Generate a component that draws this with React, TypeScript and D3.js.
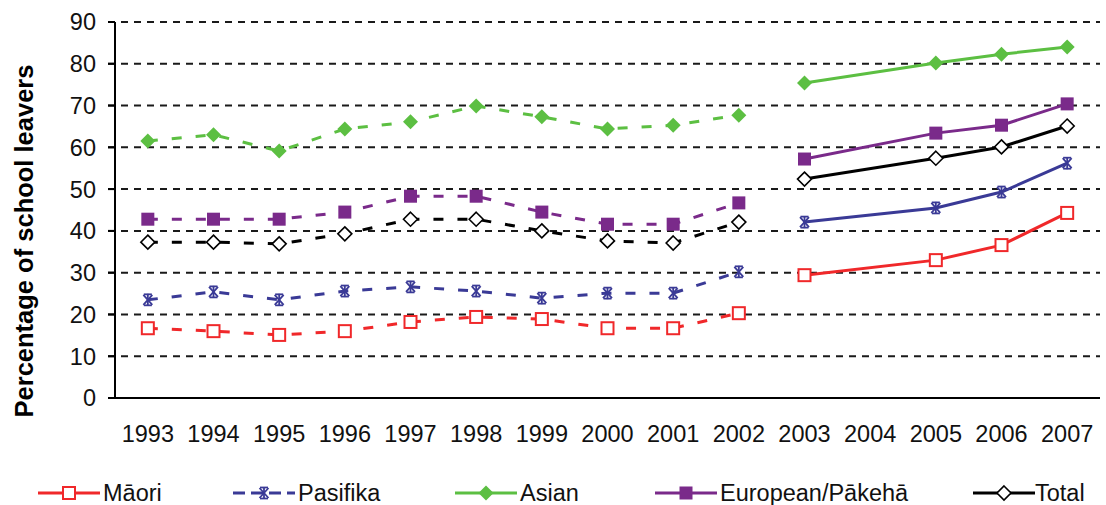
import React from "react";
import * as d3 from "d3";

const years = ["1993","1994","1995","1996","1997","1998","1999","2000","2001","2002","2003","2004","2005","2006","2007"];
const yTicks = [0,10,20,30,40,50,60,70,80,90];

const maori = [16.7,16.0,15.1,16.0,18.2,19.4,18.9,16.7,16.7,20.3,29.4,null,33.0,36.6,44.3];
const pasifika = [23.5,25.4,23.5,25.6,26.6,25.6,23.9,25.1,25.1,30.2,42.1,null,45.5,49.3,56.2];
const asian = [61.5,63.0,59.1,64.4,66.1,69.9,67.3,64.4,65.3,67.7,75.4,null,80.2,82.3,84.0];
const european = [42.8,42.8,42.8,44.5,48.3,48.3,44.5,41.6,41.6,46.7,57.2,null,63.4,65.3,70.4];
const total = [37.3,37.3,36.9,39.3,42.8,42.8,40.0,37.6,37.1,42.1,52.4,null,57.4,60.1,65.1];

const seriesNames = ["Māori","Pasifika","Asian","European/Pākehā","Total"];

type Marker = "osquare" | "star" | "diamond" | "square" | "odiamond";
const series: { name: string; values: (number | null)[]; color: string; marker: Marker }[] = [
  { name: seriesNames[0], values: maori, color: "#f0282a", marker: "osquare" },
  { name: seriesNames[1], values: pasifika, color: "#3a3a96", marker: "star" },
  { name: seriesNames[2], values: asian, color: "#5cbf42", marker: "diamond" },
  { name: seriesNames[3], values: european, color: "#7a2a8a", marker: "square" },
  { name: seriesNames[4], values: total, color: "#000000", marker: "odiamond" },
];

const W = 1106, H = 505;
const left = 115, right = 1100, top = 22, bottom = 398;
const FONT = "'Liberation Sans', Arial, sans-serif";

function MarkerShape({ type, x, y, color }: { type: Marker; x: number; y: number; color: string }) {
  if (type === "osquare") return <rect x={x - 6} y={y - 6} width={12} height={12} fill="#fff" stroke={color} strokeWidth={2} />;
  if (type === "square") return <rect x={x - 6.5} y={y - 6.5} width={13} height={13} fill={color} />;
  if (type === "diamond") return <path d={`M${x},${y - 7.5}L${x + 7.5},${y}L${x},${y + 7.5}L${x - 7.5},${y}Z`} fill={color} />;
  if (type === "odiamond") return <path d={`M${x},${y - 7}L${x + 7},${y}L${x},${y + 7}L${x - 7},${y}Z`} fill="#fff" stroke={color} strokeWidth={1.6} />;
  return (
    <g stroke={color} strokeWidth={1.8}>
      <line x1={x - 4.5} y1={y - 5} x2={x + 4.5} y2={y + 5} />
      <line x1={x - 4.5} y1={y + 5} x2={x + 4.5} y2={y - 5} />
      <line x1={x} y1={y - 6} x2={x} y2={y + 6} />
      <line x1={x - 4} y1={y - 5.5} x2={x + 4} y2={y - 5.5} />
      <line x1={x - 4} y1={y + 5.5} x2={x + 4} y2={y + 5.5} />
    </g>
  );
}

export default function App() {
  const x = d3.scaleBand<string>().domain(years).range([left, right]);
  const cx = (yr: string) => (x(yr) as number) + x.bandwidth() / 2;
  const y = d3.scaleLinear().domain([0, 90]).range([bottom, top]);

  const line = d3
    .line<{ yr: string; v: number | null }>()
    .x((d) => cx(d.yr))
    .y((d) => y(d.v as number));

  const legendItems = [
    { lx: 38, tx: 103 },
    { lx: 233, tx: 298 },
    { lx: 455, tx: 520 },
    { lx: 655, tx: 720 },
    { lx: 973, tx: 1035 },
  ];

  return (
    <svg width={W} height={H} style={{ position: "absolute", left: 0, top: 0, background: "#fff" }} fontFamily={FONT}>
      {/* grid */}
      {yTicks.filter((t) => t > 0).map((t) => (
        <line key={t} x1={left - 7} x2={right} y1={y(t)} y2={y(t)} stroke="#1a1a1a" strokeWidth={2} strokeDasharray="7,6" />
      ))}
      {yTicks.map((t) => (
        <line key={"tk" + t} x1={left - 7} x2={left} y1={y(t)} y2={y(t)} stroke="#000" strokeWidth={2} />
      ))}
      {/* axes */}
      <line x1={left} x2={left} y1={top} y2={bottom} stroke="#000" strokeWidth={2} />
      <line x1={left - 7} x2={right} y1={bottom} y2={bottom} stroke="#000" strokeWidth={2} />
      {yTicks.map((t) => (
        <text key={"yl" + t} x={96} y={y(t)} dy="0.36em" textAnchor="end" fontSize={23.5} fill="#111">{t}</text>
      ))}
      {years.map((yr) => (
        <text key={yr} x={cx(yr)} y={442} textAnchor="middle" fontSize={23.5} fill="#111">{yr}</text>
      ))}
      <text transform={`translate(33,241) rotate(-90)`} textAnchor="middle" fontSize={25.5} fontWeight="bold" fill="#000">
        Percentage of school leavers
      </text>

      {/* series */}
      {series.map((s) => {
        const pts = years.map((yr, i) => ({ yr, v: s.values[i] }));
        const early = pts.slice(0, 10).filter((d) => d.v !== null);
        const late = pts.slice(10).filter((d) => d.v !== null);
        return (
          <g key={s.name}>
            <path d={line(early) || ""} fill="none" stroke={s.color} strokeWidth={3} strokeDasharray="10,14" />
            <path d={line(late) || ""} fill="none" stroke={s.color} strokeWidth={3} />
            {pts.filter((d) => d.v !== null).map((d) => (
              <MarkerShape key={d.yr} type={s.marker} x={cx(d.yr)} y={y(d.v as number)} color={s.color} />
            ))}
          </g>
        );
      })}

      {/* legend */}
      {series.map((s, i) => {
        const it = legendItems[i];
        const ly = 493;
        return (
          <g key={"lg" + s.name}>
            <line x1={it.lx} x2={it.lx + 62} y1={ly} y2={ly} stroke={s.color} strokeWidth={3} strokeDasharray={s.marker === "star" ? "12,6" : undefined} />
            <MarkerShape type={s.marker} x={it.lx + 31} y={ly} color={s.color} />
            <text x={it.tx} y={ly} dy="0.36em" fontSize={23.5} fill="#111">{s.name}</text>
          </g>
        );
      })}
    </svg>
  );
}
